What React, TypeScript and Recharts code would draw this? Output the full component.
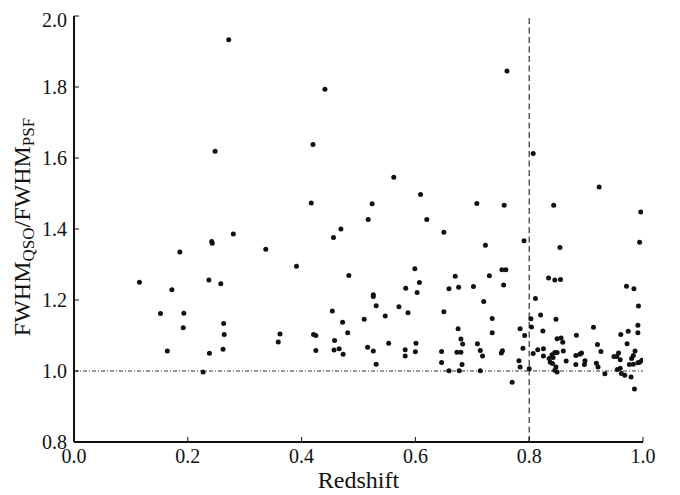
import React from "react";
import {
  ScatterChart,
  Scatter,
  XAxis,
  YAxis,
  ReferenceLine,
} from "recharts";

const redshift = [
  0.272, 0.441, 0.248, 0.42, 0.417, 0.469, 0.456, 0.242, 0.243, 0.28,
  0.337, 0.186, 0.761, 0.807, 0.562, 0.609, 0.524, 0.708, 0.756, 0.843,
  0.923, 0.517, 0.62, 0.65, 0.723, 0.791, 0.854, 0.996, 0.994, 0.115,
  0.152, 0.172, 0.164, 0.193, 0.192, 0.237, 0.238, 0.227, 0.258, 0.263,
  0.264, 0.262, 0.391, 0.359, 0.362, 0.421, 0.425, 0.425, 0.454, 0.472,
  0.458, 0.457, 0.466, 0.473, 0.481, 0.483, 0.599, 0.607, 0.603, 0.583,
  0.587, 0.571, 0.547, 0.526, 0.526, 0.531, 0.51, 0.516, 0.526, 0.531,
  0.553, 0.582, 0.582, 0.601, 0.6, 0.65, 0.646, 0.646, 0.659, 0.67,
  0.676, 0.675, 0.68, 0.683, 0.673, 0.68, 0.682, 0.659, 0.677, 0.702,
  0.72, 0.73, 0.735, 0.735, 0.709, 0.714, 0.718, 0.714, 0.752, 0.759,
  0.755, 0.751, 0.753, 0.77, 0.784, 0.792, 0.789, 0.782, 0.784, 0.8,
  0.803, 0.804, 0.811, 0.807, 0.815, 0.82, 0.824, 0.825, 0.825, 0.834,
  0.845, 0.855, 0.847, 0.883, 0.913, 0.92, 0.926, 0.933, 0.971, 0.984,
  0.992, 0.991, 0.991, 0.974, 0.961, 0.972, 0.985, 0.979, 0.994, 0.998,
  0.849, 0.856, 0.859, 0.86, 0.845, 0.849, 0.84, 0.835, 0.842, 0.837,
  0.841, 0.847, 0.845, 0.849, 0.865, 0.882, 0.889, 0.892, 0.882, 0.898,
  0.897, 0.918, 0.921, 0.986, 0.957, 0.949, 0.954, 0.96, 0.983, 0.98,
  0.976, 0.983, 0.991, 0.955, 0.96, 0.962, 0.968,
];

const fwhmRatio = [
  1.933, 1.794, 1.619, 1.638, 1.473, 1.4, 1.376, 1.365, 1.36, 1.386,
  1.343, 1.335, 1.845, 1.613, 1.546, 1.497, 1.471, 1.472, 1.467, 1.467,
  1.518, 1.427, 1.427, 1.391, 1.354, 1.367, 1.348, 1.448, 1.363, 1.25,
  1.162, 1.229, 1.056, 1.163, 1.122, 1.256, 1.05, 0.997, 1.246, 1.134,
  1.103, 1.061, 1.295, 1.082, 1.104, 1.103, 1.1, 1.058, 1.169, 1.137,
  1.086, 1.059, 1.063, 1.047, 1.108, 1.269, 1.288, 1.249, 1.221, 1.233,
  1.164, 1.181, 1.155, 1.215, 1.21, 1.184, 1.146, 1.067, 1.056, 1.019,
  1.078, 1.06, 1.042, 1.078, 1.054, 1.167, 1.055, 1.024, 1.232, 1.267,
  1.236, 1.119, 1.09, 1.076, 1.053, 1.053, 1.018, 1.001, 1.001, 1.238,
  1.196, 1.268, 1.148, 1.108, 1.077, 1.058, 1.042, 1.001, 1.285, 1.285,
  1.242, 1.051, 1.057, 0.968, 1.119, 1.1, 1.064, 1.029, 1.011, 1.006,
  1.147, 1.124, 1.204, 1.049, 1.06, 1.158, 1.113, 1.063, 1.042, 1.262,
  1.256, 1.258, 1.146, 1.101, 1.123, 1.075, 1.055, 0.992, 1.239, 1.232,
  1.183, 1.129, 1.108, 1.112, 1.103, 1.077, 0.949, 0.983, 1.025, 1.03,
  1.091, 1.093, 1.081, 1.056, 1.052, 1.052, 1.046, 1.035, 1.038, 1.025,
  1.021, 1.011, 1.002, 0.997, 1.028, 1.044, 1.047, 1.051, 1.018, 1.029,
  1.018, 1.022, 1.011, 1.056, 1.051, 1.041, 1.041, 1.032, 1.044, 1.035,
  1.018, 1.019, 1.023, 1.004, 1.008, 0.993, 0.988,
];

const xTicks = [0, 0.2, 0.4, 0.6, 0.8, 1.0];
const yTicks = [0.8, 1.0, 1.2, 1.4, 1.6, 1.8, 2.0];

const data = redshift.map((z, i) => ({ z, ratio: fwhmRatio[i] }));

const SERIF = "Liberation Serif, Times New Roman, serif";
const fmt = (v: number) => v.toFixed(1);

const Dot = (props: any) => (
  <circle cx={props.cx} cy={props.cy} r={2.5} fill="#111" />
);

const YLabel = (props: any) => {
  const vb = props.viewBox;
  const cy = vb.y + vb.height / 2 - 2;
  return (
    <text
      transform={`translate(22,${cy}) rotate(-90)`}
      textAnchor="middle"
      fontFamily={SERIF}
      fontSize={24}
      fill="#111"
    >
      FWHM
      <tspan fontSize={17} dy={4}>QSO</tspan>
      <tspan fontSize={24} dy={-4}>/FWHM</tspan>
      <tspan fontSize={17} dy={4}>PSF</tspan>
    </text>
  );
};

const XLabel = (props: any) => {
  const vb = props.viewBox;
  return (
    <text
      x={vb.x + vb.width / 2}
      y={vb.y + 46}
      textAnchor="middle"
      fontFamily={SERIF}
      fontSize={24}
      fill="#111"
    >
      Redshift
    </text>
  );
};

const axisLine = { stroke: "#111", strokeWidth: 2 };
const tickLine = { stroke: "#111", strokeWidth: 1 };
const tickText = { fontFamily: SERIF, fontSize: 20, fill: "#111" };

export default function App() {
  return (
    <div style={{ fontFamily: SERIF }}>
      <ScatterChart
        width={672}
        height={487}
        margin={{ top: 8, right: 37, bottom: 13, left: 10 }}
      >
        <XAxis
          dataKey="z"
          type="number"
          domain={[0, 1]}
          ticks={xTicks}
          tickFormatter={fmt}
          height={40}
          tickSize={-5}
          tickMargin={12}
          axisLine={axisLine}
          tickLine={tickLine}
          tick={tickText}
          label={<XLabel />}
          allowDataOverflow
        />
        <XAxis
          xAxisId="top"
          orientation="top"
          type="number"
          domain={[0, 1]}
          ticks={xTicks}
          height={0}
          tickSize={-5}
          axisLine={axisLine}
          tickLine={tickLine}
          tick={false}
          allowDataOverflow
        />
        <YAxis
          dataKey="ratio"
          type="number"
          domain={[0.8, 2.0]}
          ticks={yTicks}
          tickFormatter={fmt}
          width={56}
          tickSize={-5}
          tickMargin={12}
          axisLine={axisLine}
          tickLine={tickLine}
          tick={tickText}
          label={<YLabel />}
          allowDataOverflow
        />
        <YAxis
          yAxisId="right"
          orientation="right"
          type="number"
          domain={[0.8, 2.0]}
          ticks={yTicks}
          width={0}
          tickSize={-5}
          axisLine={axisLine}
          tickLine={tickLine}
          tick={false}
          allowDataOverflow
        />
        <ReferenceLine
          y={1.0}
          stroke="#333"
          strokeWidth={1}
          strokeDasharray="4 2 1 2"
        />
        <ReferenceLine
          x={0.8}
          stroke="#333"
          strokeWidth={1.2}
          strokeDasharray="6 3.5"
        />
        <Scatter data={data} shape={<Dot />} isAnimationActive={false} />
      </ScatterChart>
    </div>
  );
}
